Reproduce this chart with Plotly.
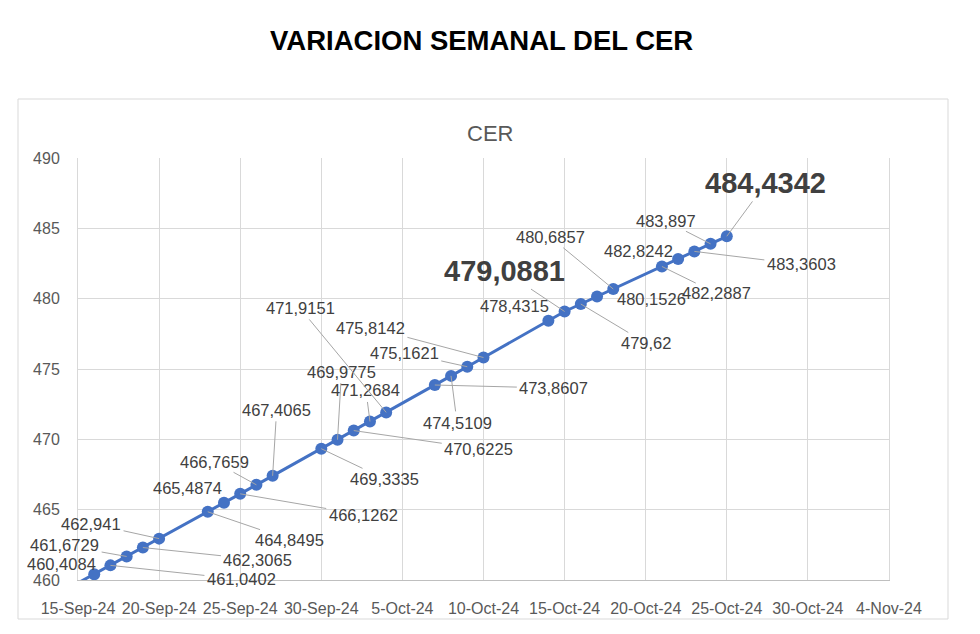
import plotly.graph_objects as go

# ---- data ----
dates = ["2024-09-13", "2024-09-16", "2024-09-17", "2024-09-18", "2024-09-19", "2024-09-20",
         "2024-09-23", "2024-09-24", "2024-09-25", "2024-09-26", "2024-09-27",
         "2024-09-30", "2024-10-01", "2024-10-02", "2024-10-03", "2024-10-04",
         "2024-10-07", "2024-10-08", "2024-10-09", "2024-10-10",
         "2024-10-14", "2024-10-15", "2024-10-16", "2024-10-17", "2024-10-18",
         "2024-10-21", "2024-10-22", "2024-10-23", "2024-10-24", "2024-10-25"]
cer = [458.52, 460.4084, 461.0402, 461.6729, 462.3065, 462.941,
       464.8495, 465.4874, 466.1262, 466.7659, 467.4065,
       469.3335, 469.9775, 470.6225, 471.2684, 471.9151,
       473.8607, 474.5109, 475.1621, 475.8142,
       478.4315, 479.0881, 479.62, 480.1526, 480.6857,
       482.2887, 482.8242, 483.3603, 483.897, 484.4342]
labels = [None, "460,4084", "461,0402", "461,6729", "462,3065", "462,941",
          "464,8495", "465,4874", "466,1262", "466,7659", "467,4065",
          "469,3335", "469,9775", "470,6225", "471,2684", "471,9151",
          "473,8607", "474,5109", "475,1621", "475,8142",
          "478,4315", "479,0881", "479,62", "480,1526", "480,6857",
          "482,2887", "482,8242", "483,3603", "483,897", "484,4342"]
bold_labels = ["479,0881", "484,4342"]
x_ticks = ["2024-09-15", "2024-09-20", "2024-09-25", "2024-09-30", "2024-10-05", "2024-10-10",
           "2024-10-15", "2024-10-20", "2024-10-25", "2024-10-30", "2024-11-04"]
x_tick_text = ["15-Sep-24", "20-Sep-24", "25-Sep-24", "30-Sep-24", "5-Oct-24", "10-Oct-24",
               "15-Oct-24", "20-Oct-24", "25-Oct-24", "30-Oct-24", "4-Nov-24"]
title_text = "VARIACION SEMANAL DEL CER"
chart_title = "CER"

# ---- label placement (pixel offsets of text centre from point; leader flag) ----
label_pos = {
    "460,4084": (-33, -10, False), "461,0402": (131, 14, True), "461,6729": (-62, -11, True),
    "462,3065": (115, 12, True), "462,941": (-68, -15, True), "464,8495": (82, 28, True),
    "465,4874": (-36, -15, False), "466,1262": (123, 21, True), "466,7659": (-42, -23, True),
    "467,4065": (4, -66, True), "469,3335": (63, 30, True), "469,9775": (4, -68, True),
    "470,6225": (125, 18, True), "471,2684": (-4, -31, True), "471,9151": (-86, -104, True),
    "473,8607": (119, 3, True), "474,5109": (6, 47, True), "475,1621": (-63, -14, True),
    "475,8142": (-113, -30, True), "478,4315": (-34, -15, False), "479,0881": (-60, -40, True),
    "479,62": (65, 39, True), "480,1526": (54, 2, False), "480,6857": (-63, -52, True),
    "482,2887": (55, 27, True), "482,8242": (-40, -8, False), "483,3603": (107, 13, True),
    "483,897": (-45, -23, True), "484,4342": (39, -53, True),
}

FONT = "Liberation Sans"
OFF = 8  # page body margin
W, H = 980, 634
plot_left, plot_right, plot_top, plot_bottom = 78, 889, 158, 580  # page coords
L = plot_left - OFF
R = W - (plot_right - OFF)
T = plot_top - OFF
B = H - (plot_bottom - OFF)
pw, ph = plot_right - plot_left, plot_bottom - plot_top

def px(x):
    return (x - plot_left) / pw

def py(y):
    return (plot_bottom - y) / ph

fig = go.Figure()
fig.add_trace(go.Scatter(
    x=dates, y=cer, mode="lines+markers",
    line=dict(color="#4472C4", width=3),
    marker=dict(color="#4472C4", size=[0] + [12] * (len(cer) - 1), opacity=1,
                line=dict(width=0)),
    hoverinfo="x+y", showlegend=False,
))

annotations = []
for d, v, lab in zip(dates, cer, labels):
    if lab is None:
        continue
    dx, dy, leader = label_pos[lab]
    bold = lab in bold_labels
    f = dict(family=FONT, size=29 if bold else 16.5, color="#404040")
    text = f"<b>{lab}</b>" if bold else lab
    if leader:
        annotations.append(dict(x=d, y=v, xref="x", yref="y", text=text, font=f,
                                showarrow=True, arrowhead=0, arrowwidth=1,
                                arrowcolor="#a6a6a6", ax=dx, ay=dy, standoff=0,
                                startstandoff=2, borderpad=0))
    else:
        annotations.append(dict(x=d, y=v, xref="x", yref="y", text=text, font=f,
                                showarrow=False, xshift=dx, yshift=-dy, borderpad=0))

annotations.append(dict(x=px(481), y=py(40), xref="paper", yref="paper", text=f"<b>{title_text}</b>",
                        xanchor="center", yanchor="middle",
                        showarrow=False, font=dict(family=FONT, size=27.5, color="#000000")))
annotations.append(dict(x=px(490), y=py(133), xref="paper", yref="paper", text=chart_title,
                        xanchor="center", yanchor="middle",
                        showarrow=False, font=dict(family=FONT, size=22, color="#595959")))

fig.update_layout(
    width=W, height=H, autosize=False,
    margin=dict(l=L, r=R, t=T, b=B),
    paper_bgcolor="white", plot_bgcolor="white",
    annotations=annotations,
    shapes=[dict(type="rect", xref="paper", yref="paper",
                 x0=px(18), x1=px(948), y0=py(619), y1=py(99),
                 line=dict(color="#d9d9d9", width=1), layer="below")],
    xaxis=dict(type="date", range=["2024-09-15", "2024-11-04"],
               tickmode="array", tickvals=x_ticks, ticktext=x_tick_text,
               showgrid=True, gridcolor="#d9d9d9", gridwidth=1,
               showline=True, linecolor="#bfbfbf", linewidth=1,
               ticks="", tickfont=dict(family=FONT, size=16, color="#595959"),
               ticklabelstandoff=14, zeroline=False),
    yaxis=dict(range=[460, 490], dtick=5, tick0=460,
               showgrid=True, gridcolor="#d9d9d9", gridwidth=1,
               showline=True, linecolor="#d9d9d9", mirror=True,
               ticks="", tickfont=dict(family=FONT, size=16, color="#595959"),
               ticklabelstandoff=14, zeroline=False),
)

fig.write_html("out.html")
